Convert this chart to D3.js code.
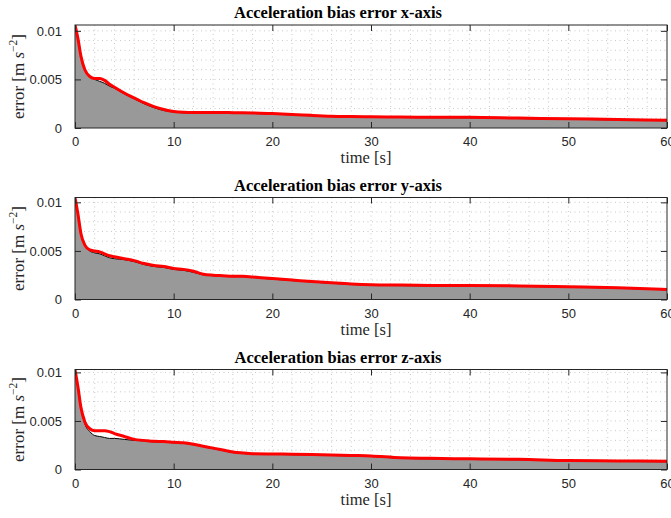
<!DOCTYPE html>
<html>
<head>
<meta charset="utf-8">
<script src="https://cdn.jsdelivr.net/npm/d3@7/dist/d3.min.js"></script>
<style>
  html, body { margin: 0; padding: 0; background: #fff; }
  svg { display: block; }
</style>
</head>
<body>
<svg id="chart" width="671" height="518"></svg>
<script>
// Time samples [s]
const time = [0, 0.3, 0.6, 1.0, 1.5, 2.0, 2.5, 3.0, 3.5, 4, 5, 6, 7, 8, 9, 10, 11, 12, 13, 14, 15, 16, 17, 18, 20, 22, 24, 26, 28, 30, 33, 36, 40, 45, 50, 55, 60];

// Estimated bias error (red curves) [m s^-2]
const errX = [0.0106, 0.0092, 0.0074, 0.0060, 0.0053, 0.0051, 0.0051, 0.0049, 0.0045, 0.0042, 0.0036, 0.0031, 0.0026, 0.0022, 0.0019, 0.0017, 0.00162, 0.0016, 0.0016, 0.0016, 0.0016, 0.00158, 0.00157, 0.00155, 0.00148, 0.0014, 0.0013, 0.00122, 0.00118, 0.00115, 0.00113, 0.00111, 0.0011, 0.00102, 0.00095, 0.00088, 0.0008];
const errY = [0.0105, 0.0088, 0.0068, 0.0056, 0.0051, 0.0050, 0.0049, 0.0047, 0.0045, 0.0044, 0.0042, 0.0040, 0.0037, 0.0035, 0.0034, 0.0032, 0.0031, 0.0029, 0.0026, 0.0025, 0.00245, 0.0024, 0.0024, 0.00232, 0.00215, 0.0020, 0.00185, 0.00172, 0.0016, 0.00152, 0.00148, 0.00145, 0.00143, 0.0014, 0.00132, 0.00122, 0.00104];
const errZ = [0.0103, 0.0085, 0.0064, 0.0049, 0.0042, 0.0040, 0.0040, 0.0040, 0.0039, 0.0037, 0.0034, 0.0031, 0.0030, 0.0029, 0.00288, 0.0028, 0.00275, 0.0026, 0.0024, 0.0022, 0.0020, 0.0018, 0.0017, 0.00163, 0.0016, 0.00158, 0.00155, 0.0015, 0.00145, 0.0014, 0.0012, 0.00115, 0.0011, 0.00105, 0.00092, 0.00088, 0.00085];

// Reference bound (grey area) [m s^-2]
const boundX = [0.0106, 0.0092, 0.0074, 0.0060, 0.0053, 0.0050, 0.0048, 0.0046, 0.0043, 0.0041, 0.0035, 0.0030, 0.0025, 0.0021, 0.0018, 0.00165, 0.00157, 0.00155, 0.00155, 0.00155, 0.00155, 0.00153, 0.00152, 0.0015, 0.00143, 0.00135, 0.00125, 0.00117, 0.00113, 0.0011, 0.00108, 0.00106, 0.00105, 0.00097, 0.0009, 0.00083, 0.00075];
const boundY = [0.0105, 0.0088, 0.0068, 0.0056, 0.0050, 0.0048, 0.0047, 0.0045, 0.0043, 0.0042, 0.0041, 0.0039, 0.0036, 0.0034, 0.0033, 0.0031, 0.0030, 0.0028, 0.00255, 0.00245, 0.0024, 0.00235, 0.00235, 0.00227, 0.0021, 0.00195, 0.0018, 0.00167, 0.00155, 0.00147, 0.00143, 0.0014, 0.00138, 0.00135, 0.00127, 0.00117, 0.00099];
const boundZ = [0.0103, 0.0085, 0.0064, 0.0047, 0.0039, 0.0035, 0.0034, 0.0033, 0.0032, 0.0032, 0.0031, 0.0030, 0.00295, 0.00285, 0.00283, 0.00275, 0.0027, 0.00255, 0.00235, 0.00215, 0.00195, 0.00175, 0.00165, 0.00158, 0.00155, 0.00153, 0.0015, 0.00145, 0.0014, 0.00135, 0.00115, 0.0011, 0.00105, 0.001, 0.00087, 0.00083, 0.0008];

const titles = ["Acceleration bias error x-axis", "Acceleration bias error y-axis", "Acceleration bias error z-axis"];
const xTicks = [0, 10, 20, 30, 40, 50, 60];
const yTicks = [0, 0.005, 0.01];
const yTickLabels = ["0", "0.005", "0.01"];

const panels = [
  { title: titles[0], err: errX, bound: boundX, top: 25, bottom: 128 },
  { title: titles[1], err: errY, bound: boundY, top: 197.5, bottom: 299.5 },
  { title: titles[2], err: errZ, bound: boundZ, top: 369.5, bottom: 469.5 }
];

const svg = d3.select("#chart");
const left = 75, right = 667;
const axisColor = "#262626";
const tickLen = 6;
const serif = "'Liberation Serif', 'Times New Roman', serif";

panels.forEach((p, i) => {
  const x = d3.scaleLinear().domain([0, 60]).range([left, right]);
  const y = d3.scaleLinear().domain([0, d3.max(p.err)]).range([p.bottom, p.top]);
  const g = svg.append("g");

  const clipId = "clip" + i;
  g.append("clipPath").attr("id", clipId)
    .append("rect").attr("x", left).attr("y", p.top)
    .attr("width", right - left).attr("height", p.bottom - p.top);

  // dotted grid (major + minor)
  const grid = g.append("g").attr("stroke", "#c8c8c8").attr("stroke-width", 1)
    .attr("stroke-dasharray", "1,3.5").attr("fill", "none");
  d3.range(2, 60, 2).forEach(t => {
    grid.append("line").attr("x1", x(t)).attr("x2", x(t))
      .attr("y1", p.top).attr("y2", p.bottom);
  });
  d3.range(1, 11).forEach(k => {
    const v = k * 0.001;
    if (y(v) > p.top + 0.5) {
      grid.append("line").attr("x1", left).attr("x2", right)
        .attr("y1", y(v)).attr("y2", y(v));
    }
  });

  const pts = time.map((t, j) => ({ t, e: p.err[j], b: p.bound[j] }));
  const plot = g.append("g").attr("clip-path", `url(#${clipId})`);

  // grey area
  plot.append("path").datum(pts)
    .attr("fill", "#999999")
    .attr("d", d3.area().x(d => x(d.t)).y0(y(0)).y1(d => y(d.b)).curve(d3.curveMonotoneX));
  plot.append("path").datum(pts)
    .attr("fill", "none").attr("stroke", "#000").attr("stroke-width", 1)
    .attr("d", d3.line().x(d => x(d.t)).y(d => y(d.b)).curve(d3.curveMonotoneX));

  // estimated error
  plot.append("path").datum(pts)
    .attr("fill", "none").attr("stroke", "#ff0000").attr("stroke-width", 3)
    .attr("stroke-linejoin", "round")
    .attr("d", d3.line().x(d => x(d.t)).y(d => y(d.e)).curve(d3.curveMonotoneX));

  // axes box
  g.append("rect").attr("x", left).attr("y", p.top)
    .attr("width", right - left).attr("height", p.bottom - p.top)
    .attr("fill", "none").attr("stroke", axisColor).attr("stroke-width", 1);

  // x axis (bottom, ticks inward) and mirrored top ticks
  const xAxis = d3.axisBottom(x).tickValues(xTicks).tickSize(-tickLen).tickPadding(tickLen + 3).tickFormat(d3.format("d"));
  const xa = g.append("g").attr("transform", `translate(0,${p.bottom})`).call(xAxis);
  const xTop = g.append("g").attr("transform", `translate(0,${p.top})`)
    .call(d3.axisTop(x).tickValues(xTicks).tickSize(-tickLen).tickFormat(""));

  // y axis (left, ticks inward) and mirrored right ticks
  const yAxis = d3.axisLeft(y).tickValues(yTicks).tickSize(-tickLen).tickPadding(tickLen + 7)
    .tickFormat((d, k) => yTickLabels[k]);
  const ya = g.append("g").attr("transform", `translate(${left},0)`).call(yAxis);
  const yRight = g.append("g").attr("transform", `translate(${right},0)`)
    .call(d3.axisRight(y).tickValues(yTicks).tickSize(-tickLen).tickFormat(""));

  [xa, xTop, ya, yRight].forEach(a => {
    a.select(".domain").remove();
    a.selectAll(".tick line").attr("stroke", axisColor);
    a.selectAll(".tick text").attr("fill", axisColor)
      .attr("font-family", "'Liberation Sans', Arial, sans-serif").attr("font-size", 13);
  });

  // title
  g.append("text").attr("x", 338).attr("y", p.top - 7)
    .attr("text-anchor", "middle")
    .attr("font-family", serif)
    .attr("font-weight", "bold").attr("font-size", 16.5).attr("fill", "#000")
    .text(p.title);

  // x label
  g.append("text").attr("x", (left + right) / 2 - 5).attr("y", p.bottom + 35)
    .attr("text-anchor", "middle")
    .attr("font-family", serif)
    .attr("font-size", 16.5).attr("fill", axisColor)
    .text("time [s]");

  // y label
  const yl = g.append("text")
    .attr("transform", `translate(24,${(p.top + p.bottom) / 2}) rotate(-90)`)
    .attr("text-anchor", "middle")
    .attr("font-family", serif)
    .attr("font-size", 17).attr("fill", axisColor);
  yl.append("tspan").text("error [m ");
  yl.append("tspan").attr("font-style", "italic").text("s");
  yl.append("tspan").attr("font-size", 11.5).attr("dy", -7).text("−2");
  yl.append("tspan").attr("dy", 7).text("]");
});
</script>
</body>
</html>
